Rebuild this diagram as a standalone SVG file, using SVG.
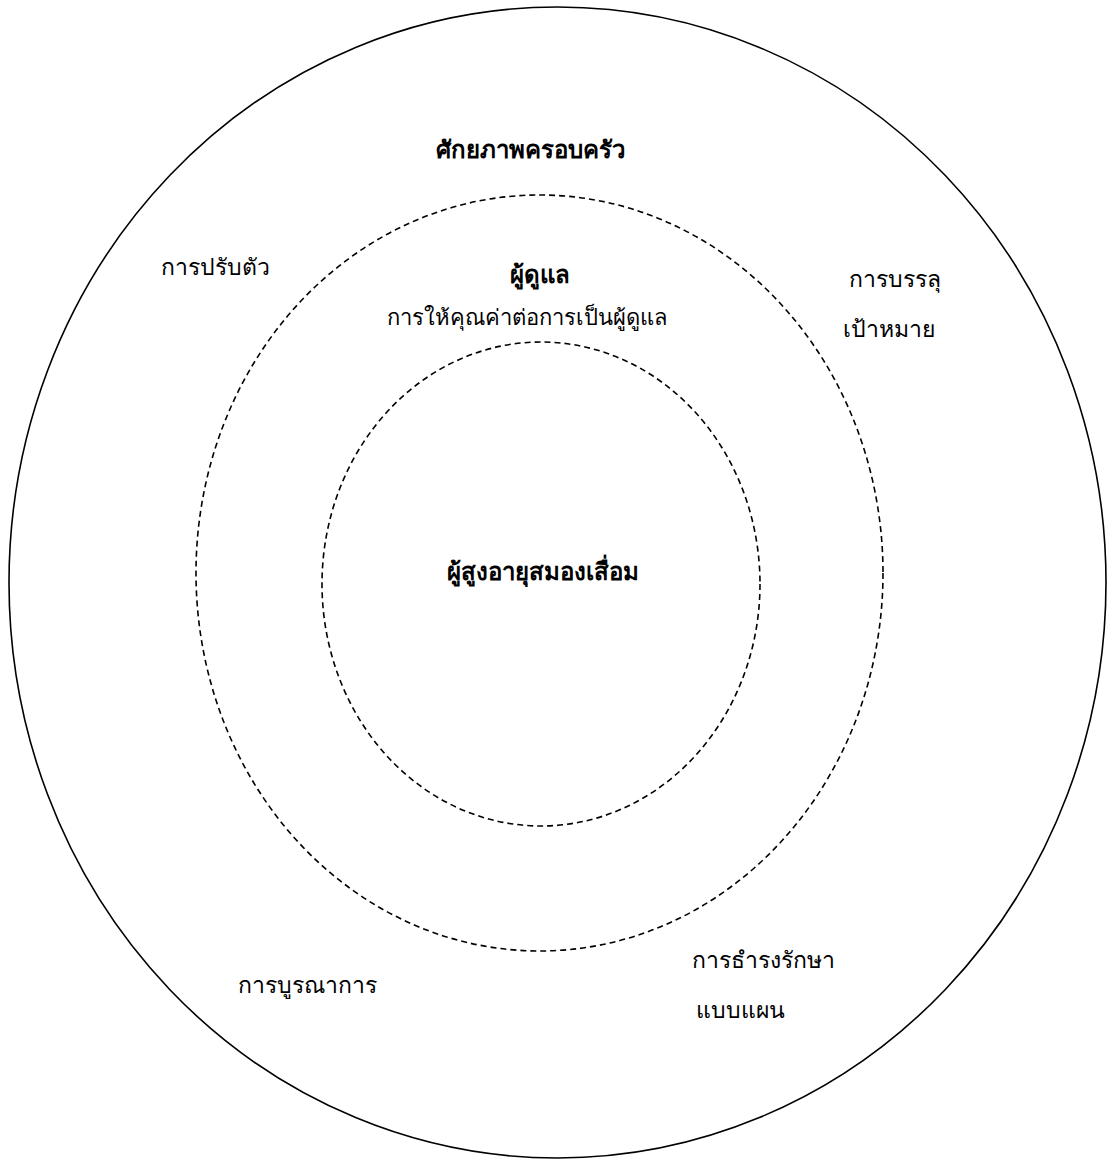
<svg xmlns="http://www.w3.org/2000/svg" width="1108" height="1160" viewBox="0 0 1108 1160">
<style>
.ring{fill:none;stroke:#000;stroke-width:1.6}
.dash{stroke-dasharray:6 4}
text{font-family:"Liberation Serif","Noto Sans",serif;fill:#000;text-anchor:middle}
.b{font-weight:bold;font-size:24px}
.r{font-size:23px}
.s{font-size:22px}
</style>
<rect width="1108" height="1160" fill="#fff"/>
<g id="outer"><ellipse class="ring" cx="557.5" cy="582.5" rx="548.5" ry="575.5"/></g>
<g id="middle"><ellipse class="ring dash" cx="539.5" cy="573" rx="343.5" ry="378"/></g>
<g id="inner"><ellipse class="ring dash" cx="541" cy="584" rx="219" ry="242"/></g>
<g id="labels">
<text class="b" x="530" y="158">ศักยภาพครอบครัว</text>
<text class="b" x="540" y="283">ผู้ดูแล</text>
<text class="s" x="527" y="325">การให้คุณค่าต่อการเป็นผู้ดูแล</text>
<text class="r" x="215" y="275">การปรับตัว</text>
<text class="r" x="895" y="287">การบรรลุ</text>
<text class="r" x="889" y="337">เป้าหมาย</text>
<text class="b" x="543" y="580">ผู้สูงอายุสมองเสื่อม</text>
<text class="r" x="307" y="993">การบูรณาการ</text>
<text class="r" x="763" y="968">การธำรงรักษา</text>
<text class="r" x="740" y="1018">แบบแผน</text>
</g>
</svg>
